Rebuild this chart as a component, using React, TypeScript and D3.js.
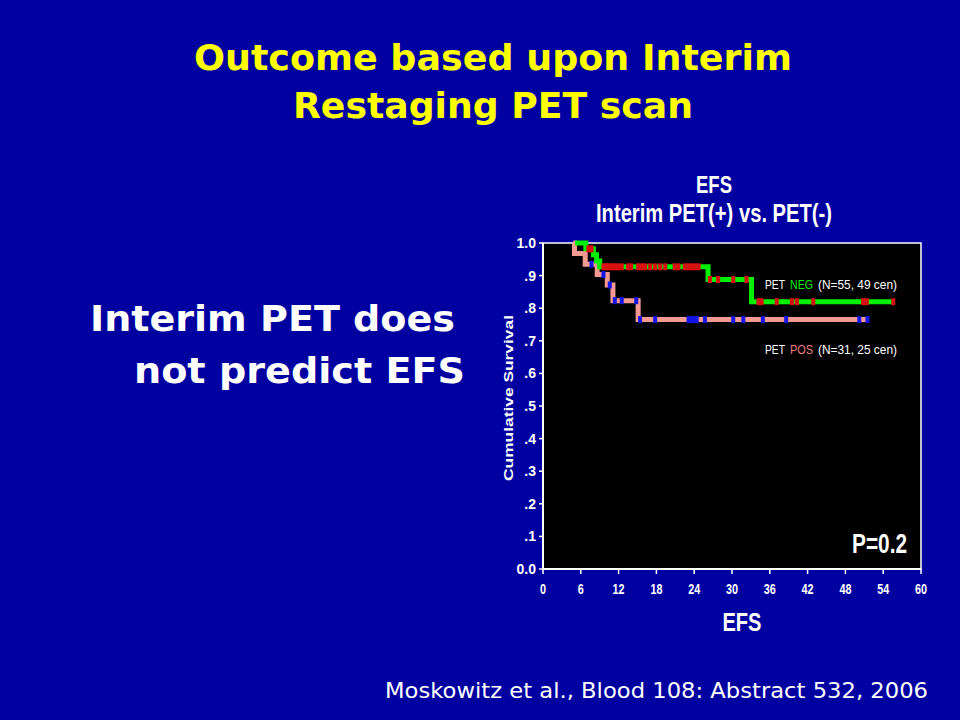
import * as d3 from 'd3';

// Kaplan-Meier steps
const negTimes = [5.1, 6.8, 8.0, 8.5, 9.0, 26.2, 33.1, 55.6];
const negSurv = [1.0, 0.982, 0.964, 0.945, 0.927, 0.888, 0.82, 0.82];
const posTimes = [4.8, 5.0, 6.7, 8.6, 10.2, 11.1, 15.1, 51.5];
const posSurv = [1.0, 0.968, 0.935, 0.903, 0.871, 0.823, 0.765, 0.765];

// censor marks (months)
const negCensor = [7.2, 7.7, 9.6, 10.1, 10.4, 10.9, 11.4, 11.9, 12.5, 13.5, 14.0, 15.1, 15.6, 16.2, 17.0,
  17.8, 18.6, 19.4, 20.9, 21.5, 22.5, 23.1, 23.6, 24.1, 24.7, 26.5, 27.8, 30.2, 32.3, 34.2, 34.7, 37.1,
  39.5, 40.3, 42.9, 50.8, 51.4, 55.6];
const posCensor = [7.7, 9.6, 10.6, 11.4, 12.5, 14.8, 15.4, 17.8, 23.1, 23.4, 23.9, 24.4, 25.7, 30.2,
  31.8, 34.9, 38.6, 50.2, 51.5];

const xTicks = [0, 6, 12, 18, 24, 30, 36, 42, 48, 54, 60];
const yTicks = [0, 0.1, 0.2, 0.3, 0.4, 0.5, 0.6, 0.7, 0.8, 0.9, 1.0];
const yTickLabels = ['0.0', '.1', '.2', '.3', '.4', '.5', '.6', '.7', '.8', '.9', '1.0'];

const x = d3.scaleLinear().domain([0, 60]).range([543, 921]);
const y = d3.scaleLinear().domain([0, 1]).range([569, 243]);

const stepLine = d3
  .line<[number, number]>()
  .x((d) => x(d[0]))
  .y((d) => y(d[1]))
  .curve(d3.curveStepAfter);

const survAt = (times: number[], surv: number[], t: number) => {
  let s = surv[0];
  times.forEach((tt, i) => {
    if (t >= tt) s = surv[i];
  });
  return s;
};

const narrow = '"Liberation Sans Narrow", "Liberation Sans", Arial, sans-serif';
const slideFont = '"DejaVu Sans", Verdana, sans-serif';

const Legend = ({ yy, word, color, rest }: { yy: number; word: string; color: string; rest: string }) => (
  <g fontFamily={narrow} fontSize={13}>
    <text x={765} y={yy} fill="#fff" textLength={20} lengthAdjust="spacingAndGlyphs">PET</text>
    <text x={790} y={yy} fill={color} textLength={23} lengthAdjust="spacingAndGlyphs">{word}</text>
    <text x={818} y={yy} fill="#fff" textLength={79} lengthAdjust="spacingAndGlyphs">{rest}</text>
  </g>
);

const App = () => {
  const negPts = negTimes.map((t, i) => [t, negSurv[i]] as [number, number]);
  const posPts = posTimes.map((t, i) => [t, posSurv[i]] as [number, number]);

  return (
    <svg width={960} height={720} style={{ position: 'absolute', left: 0, top: 0 }}>
      <rect x={0} y={0} width={960} height={720} fill="#0000a0" />

      {/* slide title */}
      <text x={493} y={70} textAnchor="middle" fill="#ffff00" fontFamily={slideFont} fontWeight="bold" fontSize={35}
        textLength={598} lengthAdjust="spacingAndGlyphs">Outcome based upon Interim</text>
      <text x={493} y={118} textAnchor="middle" fill="#ffff00" fontFamily={slideFont} fontWeight="bold" fontSize={35}
        textLength={400} lengthAdjust="spacingAndGlyphs">Restaging PET scan</text>

      {/* left bullet */}
      <text x={90} y={331} fill="#fff" fontFamily={slideFont} fontWeight="bold" fontSize={35}
        textLength={365} lengthAdjust="spacingAndGlyphs">Interim PET does</text>
      <text x={134} y={383} fill="#fff" fontFamily={slideFont} fontWeight="bold" fontSize={35}
        textLength={331} lengthAdjust="spacingAndGlyphs">not predict EFS</text>

      {/* footer */}
      <text x={385} y={698} fill="#fff" fontFamily={slideFont} fontSize={21}
        textLength={543} lengthAdjust="spacingAndGlyphs">Moskowitz et al., Blood 108: Abstract 532, 2006</text>

      {/* chart title */}
      <text x={714} y={193} textAnchor="middle" fill="#fff" fontFamily={narrow} fontWeight="bold" fontSize={24}
        textLength={36} lengthAdjust="spacingAndGlyphs">EFS</text>
      <text x={714} y={222} textAnchor="middle" fill="#fff" fontFamily={narrow} fontWeight="bold" fontSize={25}
        textLength={236} lengthAdjust="spacingAndGlyphs">Interim PET(+) vs. PET(-)</text>

      {/* plot area */}
      <rect x={543} y={243} width={378} height={326} fill="#000" stroke="#fff" strokeWidth={1.5} />
      <line x1={543} x2={543} y1={243} y2={569} stroke="#fff" strokeWidth={2} />
      <line x1={543} x2={921} y1={569} y2={569} stroke="#fff" strokeWidth={2} />

      {yTicks.map((v, i) => (
        <g key={'y' + i}>
          <line x1={539} x2={543} y1={y(v)} y2={y(v)} stroke="#fff" strokeWidth={1.5} />
          <text x={536} y={y(v) + 5} textAnchor="end" fill="#fff" fontFamily={narrow} fontWeight="bold" fontSize={14}>
            {yTickLabels[i]}
          </text>
        </g>
      ))}
      {xTicks.map((v) => (
        <g key={'x' + v}>
          <line x1={x(v)} x2={x(v)} y1={569} y2={574} stroke="#fff" strokeWidth={1.5} />
          <text x={x(v)} y={594} textAnchor="middle" fill="#fff" fontFamily={narrow} fontWeight="bold" fontSize={15}
            textLength={v >= 10 ? 12 : 6} lengthAdjust="spacingAndGlyphs">
            {v}
          </text>
        </g>
      ))}

      <text transform={`translate(513, ${y(0.5) - 8}) rotate(-90)`} textAnchor="middle" fill="#fff" fontFamily={narrow}
        fontWeight="bold" fontSize={12} textLength={166} lengthAdjust="spacingAndGlyphs">Cumulative Survival</text>
      <text x={742} y={631} textAnchor="middle" fill="#fff" fontFamily={narrow} fontWeight="bold" fontSize={25}
        textLength={39} lengthAdjust="spacingAndGlyphs">EFS</text>

      {/* curves */}
      <path d={stepLine(posPts) || ''} fill="none" stroke="#f59a93" strokeWidth={5} />
      {posCensor.map((t, i) => (
        <rect key={'pc' + i} x={x(t) - 2} y={y(survAt(posTimes, posSurv, t)) - 3.5} width={4} height={7} fill="#1414e6" />
      ))}
      <path d={stepLine(negPts) || ''} fill="none" stroke="#00f000" strokeWidth={5} />
      {negCensor.map((t, i) => (
        <rect key={'nc' + i} x={x(t) - 2} y={y(survAt(negTimes, negSurv, t)) - 3.5} width={4} height={7} fill="#d81010" />
      ))}

      {/* legend labels */}
      <Legend yy={289} word="NEG" color="#00f000" rest="(N=55, 49 cen)" />
      <Legend yy={354} word="POS" color="#f08080" rest="(N=31, 25 cen)" />

      <text x={907} y={553} textAnchor="end" fill="#fff" fontFamily={narrow} fontWeight="bold" fontSize={27}
        textLength={55} lengthAdjust="spacingAndGlyphs">P=0.2</text>
    </svg>
  );
};

export default App;
